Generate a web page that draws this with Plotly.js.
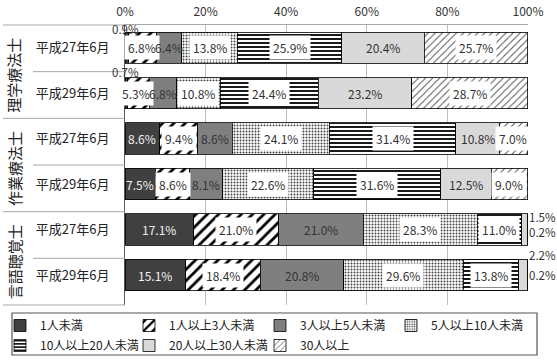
<!DOCTYPE html>
<html>
<head>
<meta charset="utf-8">
<script src="https://cdn.plot.ly/plotly-3.0.1.min.js"></script>
<style>html,body{margin:0;padding:0;background:#fff;}#chart{width:557px;height:361px;}</style>
</head>
<body>
<div id="chart"></div>
<script>
const groups = ['理学療法士', '作業療法士', '言語聴覚士'];
const periods = ['平成27年6月', '平成29年6月'];
const seriesNames = ['1人未満', '1人以上3人未満', '3人以上5人未満', '5人以上10人未満', '10人以上20人未満', '20人以上30人未満', '30人以上'];
const s1 = [0.9, 0.7, 8.6, 7.5, 17.1, 15.1];
const s2 = [6.8, 5.3, 9.4, 8.6, 21.0, 18.4];
const s3 = [6.4, 6.8, 8.6, 8.1, 21.0, 20.8];
const s4 = [13.8, 10.8, 24.1, 22.6, 28.3, 29.6];
const s5 = [25.9, 24.4, 31.4, 31.6, 11.0, 13.8];
const s6 = [20.4, 23.2, 10.8, 12.5, 1.5, 2.2];
const s7 = [25.7, 28.7, 7.0, 9.0, 0.2, 0.2];
const xTicks = [0, 20, 40, 60, 80, 100];

const seriesValues = [s1, s2, s3, s4, s5, s6, s7];
const rowKeys = [];
const rowLabels = [];
groups.forEach(g => periods.forEach(p => { rowKeys.push(g + ' ' + p); rowLabels.push(p); }));

const W = 557, H = 361;
const FONT = '"Noto Sans CJK JP", "Noto Sans", sans-serif';
const styles = [
  {color: '#404040', pattern: {shape: ''}},
  {color: '#ffffff', pattern: {shape: '/', fgcolor: '#000000', bgcolor: '#ffffff', size: 8, solidity: 0.35}},
  {color: '#7f7f7f', pattern: {shape: ''}},
  {color: '#ffffff', pattern: {shape: '.', fgcolor: '#444444', bgcolor: '#ffffff', size: 3, solidity: 0.35}},
  {color: '#ffffff', pattern: {shape: '-', fgcolor: '#000000', bgcolor: '#ffffff', size: 4, solidity: 0.45}},
  {color: '#d9d9d9', pattern: {shape: ''}},
  {color: '#ffffff', pattern: {shape: '/', fgcolor: '#555555', bgcolor: '#ffffff', size: 5, solidity: 0.2}}
];
const labelKind = ['dark', 'box', 'plain', 'box', 'box', 'plain', 'box'];
const legendCol = [0, 1, 2, 3, 0, 1, 2];
const legendRow = [0, 0, 0, 0, 1, 1, 1];
const colSymbolX = [21, 150, 281, 412];
const rowCenterY = [325, 345];

const legendIds = seriesNames.map((n, i) => i === 0 ? 'legend' : 'legend' + (i + 1));

const traces = seriesValues.map((vals, i) => ({
  type: 'bar',
  orientation: 'h',
  name: seriesNames[i],
  legend: legendIds[i],
  y: rowKeys,
  x: vals,
  marker: {color: styles[i].color, pattern: styles[i].pattern, line: {color: '#000000', width: 0.8}},
  hoverinfo: 'name+x'
}));

const outside = {
  '0-0': {pos: 'center', yshift: 19},
  '0-1': {pos: 'center', yshift: 21},
  '5-4': {pos: 'end', yshift: 13},
  '6-4': {pos: 'end', yshift: -2},
  '5-5': {pos: 'end', yshift: 20},
  '6-5': {pos: 'end', yshift: 0}
};
// small horizontal nudges (px) for crowded in-bar labels
const nudge = {'1-1': -3};

const annotations = [];
const cum = rowKeys.map(() => 0);
seriesValues.forEach((vals, i) => {
  vals.forEach((v, r) => {
    const start = cum[r];
    cum[r] += v;
    const key = i + '-' + r;
    const txt = v.toFixed(1) + '%';
    if (outside[key]) {
      const o = outside[key];
      annotations.push({
        x: o.pos === 'center' ? start + v / 2 : 100,
        y: rowKeys[r], xref: 'x', yref: 'y',
        text: txt, showarrow: false,
        xanchor: o.pos === 'center' ? 'center' : 'left',
        yanchor: 'middle',
        xshift: -1,
        yshift: o.yshift,
        font: {family: FONT, size: 11.5, color: '#333333'}
      });
      return;
    }
    const kind = labelKind[i];
    const a = {
      x: start + v / 2, y: rowKeys[r], xref: 'x', yref: 'y',
      text: txt, showarrow: false, xanchor: 'center', yanchor: 'middle',
      xshift: nudge[key] || 0,
      font: {family: FONT, size: 12, color: kind === 'dark' ? '#f2f2f2' : '#333333'}
    };
    if (kind === 'box') { a.bgcolor = '#ffffff'; a.borderpad = 3; }
    annotations.push(a);
  });
});

groups.forEach((g, gi) => {
  annotations.push({
    x: (14 - 125) / 403, xref: 'paper', xanchor: 'center',
    y: 1 - (gi * 2 + 1) / 6, yref: 'paper', yanchor: 'middle',
    yshift: -4,
    text: g, textangle: -90, showarrow: false,
    font: {family: FONT, size: 15, color: '#222222'}
  });
});

const shapes = [];
const lx = (3 - 125) / 403, sx = (33 - 125) / 403;
[0, 2, 4, 6].forEach(k => shapes.push({type: 'line', xref: 'paper', yref: 'paper', x0: lx, x1: 0, y0: 1 - k / 6, y1: 1 - k / 6, line: {color: '#a6a6a6', width: 1}}));
[1, 3, 5].forEach(k => shapes.push({type: 'line', xref: 'paper', yref: 'paper', x0: sx, x1: 0, y0: 1 - k / 6, y1: 1 - k / 6, line: {color: '#a6a6a6', width: 1}}));
shapes.push({type: 'rect', xref: 'paper', yref: 'paper', x0: (12 - 125) / 403, x1: (537 - 125) / 403, y0: (305 - 355) / 280, y1: (305 - 313) / 280, line: {color: '#555555', width: 1.2}, fillcolor: 'rgba(0,0,0,0)'});

const layout = {
  width: W, height: H,
  margin: {l: 125, r: 29, t: 25, b: 56, pad: 0, autoexpand: false},
  paper_bgcolor: '#ffffff', plot_bgcolor: '#ffffff',
  barmode: 'stack', bargap: 0.31,
  font: {family: FONT, color: '#333333'},
  xaxis: {
    side: 'top', range: [0, 100], tickvals: xTicks, ticktext: xTicks.map(t => t + '%'),
    showgrid: true, gridcolor: '#bfbfbf', gridwidth: 1, zeroline: false,
    showline: true, linecolor: '#a6a6a6', linewidth: 1, ticks: '',
    ticklabelstandoff: 3,
    tickfont: {family: FONT, size: 12, color: '#333333'}, fixedrange: true
  },
  yaxis: {
    type: 'category', autorange: 'reversed', tickmode: 'array', tickvals: rowKeys, ticktext: rowLabels,
    showgrid: false, zeroline: false, showline: true, linecolor: '#595959', linewidth: 1, ticks: '',
    ticklabelstandoff: 12,
    tickfont: {family: FONT, size: 13, color: '#222222'}, fixedrange: true
  },
  annotations: annotations,
  shapes: shapes,
  showlegend: true
};

legendIds.forEach((id, i) => {
  layout[id] = {
    xref: 'container', yref: 'container',
    x: Math.max(0, (colSymbolX[legendCol[i]] - 21) / W), xanchor: 'left',
    y: 1 - (rowCenterY[legendRow[i]] - 14) / H, yanchor: 'top',
    borderwidth: 0, bgcolor: 'rgba(0,0,0,0)',
    font: {family: FONT, size: 12, color: '#222222'},
    itemwidth: 30, itemclick: false, itemdoubleclick: false
  };
});

Plotly.newPlot('chart', traces, layout, {displayModeBar: false, staticPlot: true});
</script>
</body>
</html>
